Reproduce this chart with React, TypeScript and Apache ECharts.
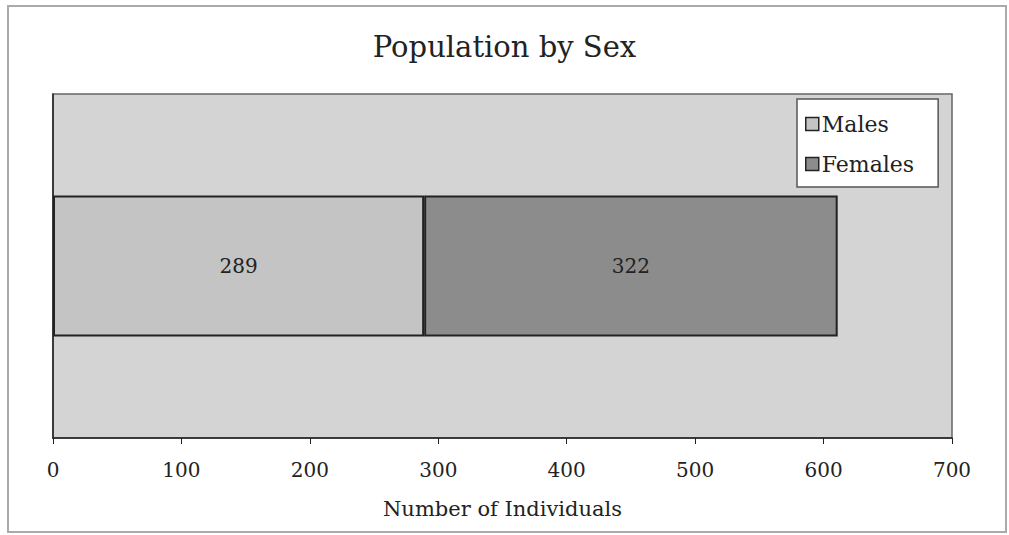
import React, { useEffect, useRef } from "react";
import * as echarts from "echarts";

const categories = [""];
const males = [289];
const females = [322];
const xTicks = [0, 100, 200, 300, 400, 500, 600, 700];

const FONT = "'DejaVu Serif', 'Liberation Serif', serif";

export default function App() {
  const ref = useRef<HTMLDivElement>(null);
  useEffect(() => {
    if (!ref.current) return;
    const chart = echarts.init(ref.current, null, { renderer: "svg" });
    chart.setOption({
      animation: false,
      backgroundColor: "#ffffff",
      title: {
        text: "Population by Sex",
        left: "center",
        top: 27,
        textStyle: { fontFamily: FONT, fontSize: 29, fontWeight: "normal", color: "#222" },
      },
      graphic: [
        {
          type: "rect",
          shape: { x: 8, y: 6, width: 998, height: 526 },
          style: { fill: "none", stroke: "#aaaaaa", lineWidth: 2 },
          z: -1,
        },
      ],
      legend: {
        orient: "vertical",
        left: 797,
        top: 99,
        backgroundColor: "#ffffff",
        borderColor: "#555",
        borderWidth: 1.5,
        padding: [14, 24, 12, 8],
        itemGap: 18,
        itemWidth: 13,
        itemHeight: 13,
        icon: "rect",
        data: [
          { name: "Males", itemStyle: { color: "#c4c4c4", borderColor: "#222", borderWidth: 1.5 } },
          { name: "Females", itemStyle: { color: "#8c8c8c", borderColor: "#222", borderWidth: 1.5 } },
        ],
        textStyle: { fontFamily: FONT, fontSize: 22, color: "#222", padding: [0, 0, 0, -2] },
      },
      grid: {
        left: 53,
        right: 57,
        top: 94,
        bottom: 97,
        show: true,
        backgroundColor: "#d4d4d4",
        borderColor: "#666",
        borderWidth: 1.5,
      },
      xAxis: {
        type: "value",
        min: xTicks[0],
        max: xTicks[xTicks.length - 1],
        interval: 100,
        name: "Number of Individuals",
        nameLocation: "middle",
        nameGap: 60,
        nameTextStyle: { fontFamily: FONT, fontSize: 21, color: "#222" },
        axisLine: { show: true, lineStyle: { color: "#222", width: 1.5 } },
        axisTick: { show: true, length: 6, lineStyle: { color: "#222" } },
        axisLabel: { fontFamily: FONT, fontSize: 20, color: "#222", margin: 22 },
        splitLine: { show: false },
      },
      yAxis: {
        type: "category",
        data: categories,
        axisLine: { show: true, lineStyle: { color: "#222", width: 1.5 } },
        axisTick: { show: false },
        axisLabel: { show: false },
      },
      series: [
        {
          name: "Males",
          type: "bar",
          stack: "total",
          data: males,
          barWidth: "41%",
          itemStyle: { color: "#c4c4c4", borderColor: "#222", borderWidth: 2 },
          label: { show: true, position: "inside", fontFamily: FONT, fontSize: 20, color: "#222" },
        },
        {
          name: "Females",
          type: "bar",
          stack: "total",
          data: females,
          barWidth: "41%",
          itemStyle: { color: "#8c8c8c", borderColor: "#222", borderWidth: 2 },
          label: { show: true, position: "inside", fontFamily: FONT, fontSize: 20, color: "#222" },
        },
      ],
    });
    return () => chart.dispose();
  }, []);
  return (
    <div
      ref={ref}
      style={{ position: "fixed", left: 0, top: 0, width: 1009, height: 535 }}
    />
  );
}
